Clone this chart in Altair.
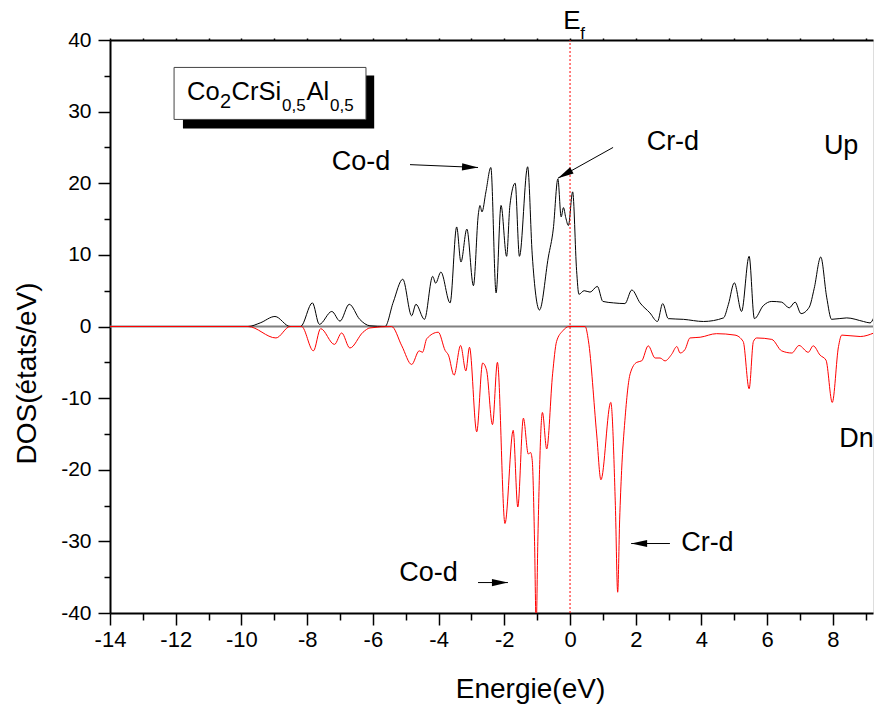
import altair as alt
import pandas as pd

# ---------------- data ----------------
up_x = [-14, -9.8, -9.43, -8.98, -8.52, -8.2, -7.84, -7.63, -7.25, -7.0, -6.72, -6.4, -6.09, -5.63,
        -5.38, -5.09, -4.82, -4.69, -4.43, -4.18, -4.09, -3.93, -3.65, -3.45, -3.32, -3.14, -2.94,
        -2.79, -2.74, -2.68, -2.56, -2.41, -2.25, -2.10, -1.93, -1.83, -1.67, -1.54, -1.29, -1.15,
        -0.93, -0.66, -0.51, -0.37, -0.27, -0.2, -0.13, -0.05, 0.08, 0.2, 0.27, 0.43, 0.61, 0.83,
        1.0, 1.32, 1.67, 1.88, 2.13, 2.43, 2.66, 2.82, 2.99, 3.45, 4.06, 4.67, 4.82, 5.0, 5.22,
        5.45, 5.61, 5.88, 6.14, 6.44, 6.67, 6.85, 7.03, 7.28, 7.43, 7.63, 7.81, 7.96, 8.42, 8.93,
        9.13, 9.25]
up_y = [0, 0, 0.5, 1.4, 0, 0, 3.3, 0.3, 2.1, 0.75, 3.1, 1.0, 0.1, 0,
        3.4, 6.6, 1.5, 3.1, 1.0, 7.0, 6.05, 7.6, 3.3, 13.9, 9.0, 13.6, 5.7,
        15.7, 16.9, 16.0, 18.8, 22.2, 4.7, 16.9, 9.8, 16.9, 20.0, 9.8, 22.3, 10.0,
        2.3, 9.7, 13.6, 20.6, 15.3, 16.6, 15.2, 14.1, 18.8, 7.8, 4.5, 5.0, 4.8, 5.6,
        3.5, 3.3, 3.2, 5.1, 3.3, 1.9, 0.7, 3.2, 1.1, 1.0, 0.7, 1.2, 3.1, 6.1, 2.1,
        9.8, 1.1, 2.9, 3.5, 3.4, 2.6, 3.4, 1.8, 2.7, 5.3, 9.7, 4.1, 1.0, 1.2, 0.7,
        0.5, 1.3]

dn_x = [-14, -9.8, -8.95, -8.52, -8.17, -7.81, -7.59, -7.17, -6.95, -6.70, -6.3, -6.09, -5.43,
        -5.12, -4.82, -4.59, -4.49, -4.36, -4.01, -3.80, -3.70, -3.53, -3.33, -3.17, -3.06,
        -2.84, -2.66, -2.54, -2.36, -2.21, -1.98, -1.73, -1.59, -1.42, -1.27, -1.2, -1.15,
        -1.08, -1.03, -0.98, -0.84, -0.71, -0.53, -0.41, -0.22, -0.03, 0.46, 0.56, 0.81,
        0.94, 1.24, 1.38, 1.45, 1.51, 1.57, 1.67, 1.83, 2.03, 2.18, 2.38, 2.59, 2.74, 2.89,
        3.09, 3.25, 3.35, 3.5, 3.65, 3.96, 4.46, 5.02, 5.27, 5.45, 5.58, 5.68, 6.14, 6.44,
        6.75, 6.97, 7.25, 7.40, 7.61, 7.79, 7.98, 8.17, 8.27, 8.83, 9.25]
dn_y = [0, 0, -1.6, 0, 0, -3.4, -0.3, -2.5, -0.9, -3.0, -0.8, -0.2, 0,
        -2.7, -5.3, -3.4, -3.6, -1.7, -0.8, -3.35, -4.0, -6.8, -2.65, -6.2, -2.9,
        -14.7, -5.1, -6.1, -13.7, -5.0, -27.5, -14.5, -25.2, -12.8, -17.8, -17.6, -18.7,
        -30, -42, -30, -12.0, -17.1, -6.6, -2.1, -0.6, 0, 0, -2.0, -15.0,
        -21.4, -10.6, -25, -37.1, -27, -20.1, -13.1, -6.6, -5.0, -4.8, -2.7, -4.4, -4.4, -4.8,
        -3.9, -2.8, -3.7, -3.2, -1.6, -1.5, -1.0, -1.2, -2.1, -8.7, -2.1, -1.6, -1.8, -3.4,
        -3.7, -2.65, -3.6, -2.7, -4.0, -4.7, -10.6, -2.8, -1.2, -1.4, -0.9]

x_ticks = list(range(-14, 10))
y_ticks = list(range(-40, 41, 5))

label_text = ["Co-d", "Cr-d", "Up", "Dn", "Cr-d", "Co-d"]
label_x = [-6.36, 3.13, 8.25, 8.72, 4.18, -4.31]
label_y = [21.8, 24.6, 24.1, -16.8, -31.3, -35.6]

arrow_x1 = [-4.87, 1.31, -2.80, 3.04]
arrow_y1 = [22.6, 25.0, -35.75, -30.3]
arrow_x2 = [-2.80, -0.37, -1.89, 1.86]
arrow_y2 = [22.2, 20.7, -35.75, -30.3]
arrow_ang = [92.5, 240.6, 90, 270]

formula_text = ["Co", "2", "CrSi", "0,5", "Al", "0,5"]
formula_x = [-11.656, -10.651, -10.301, -8.764, -8.019, -7.304]
formula_y = [31.66, 30.54, 31.66, 30.03, 31.66, 30.03]
formula_fs = [25.5, 20, 25.5, 17, 25.5, 17]

box_x = [-12.05, -6.21]
box_y = [36.17, 28.91]
shadow_x = [-11.78, -5.96]
shadow_y = [35.06, 27.65]

ef_text = ["E", "f"]
ef_x = [-0.21, 0.31]
ef_y = [41.48, 40.08]
ef_fs = [26, 17]

# ---------------- chart ----------------
FONT = "Liberation Sans"

xs = alt.Scale(domain=[-14, 9.22], nice=False, zero=False)
ys = alt.Scale(domain=[-40, 40], nice=False, zero=False)

x_axis = alt.Axis(
    orient="bottom", values=x_ticks, title="Energie(eV)", grid=False,
    labelExpr="datum.value % 2 === 0 ? '' + datum.value : ''",
    tickSize={"condition": {"test": "datum.value % 2 === 0", "value": 12}, "value": 7},
    tickColor="black", tickWidth=1.5, domainColor="black", domainWidth=2,
    labelFont=FONT, labelFontSize=22, labelColor="black", labelPadding=4,
    labelFlush=False, labelOverlap=False, labelBound=False,
    titleFont=FONT, titleFontSize=28, titleFontWeight="normal", titleColor="black",
    titleX=420, titleY=84, titleBaseline="alphabetic", titleAlign="center",
)
top_axis = alt.Axis(
    orient="top", values=x_ticks, labels=False, title=None, grid=False,
    tickSize=2, tickColor="black", tickWidth=1.5, domainColor="black", domainWidth=2,
)
y_axis = alt.Axis(
    orient="left", values=y_ticks, title="DOS(états/eV)", grid=False,
    labelExpr="datum.value % 10 === 0 ? '' + datum.value : ''",
    tickSize={"condition": {"test": "datum.value % 10 === 0", "value": 12}, "value": 6},
    tickColor="black", tickWidth=1.5, domainColor="black", domainWidth=2,
    labelFont=FONT, labelFontSize=21, labelColor="black", labelPadding=7,
    labelFlush=False, labelOverlap=False, labelBound=False,
    titleFont=FONT, titleFontSize=28, titleFontWeight="normal", titleColor="black",
    titleX=-75, titleY=333, titleAngle=270, titleBaseline="alphabetic", titleAlign="center",
)


def Y(field):
    return alt.Y(field, scale=ys, axis=y_axis)


def Xn(field):
    return alt.X(field, scale=xs, axis=None)


up_df = pd.DataFrame({"x": up_x, "y": up_y})
dn_df = pd.DataFrame({"x": dn_x, "y": dn_y})

zero_line = alt.Chart(pd.DataFrame({"x": [-14], "x2": [9.22], "y": [0]})).mark_rule(
    color="#808080", strokeWidth=1.8
).encode(x=Xn("x:Q"), x2="x2:Q", y=Y("y:Q"))

up_line = alt.Chart(up_df).mark_line(
    color="black", strokeWidth=1, interpolate="monotone", clip=True
).encode(x=alt.X("x:Q", scale=xs, axis=x_axis), y=Y("y:Q"))

dn_line = alt.Chart(dn_df).mark_line(
    color="#ff0000", strokeWidth=1, interpolate="monotone", clip=True
).encode(x=Xn("x:Q"), y=Y("y:Q"))

ef_line = alt.Chart(pd.DataFrame({"x": [0], "y": [-40], "y2": [40]})).mark_rule(
    color="#ff0000", strokeWidth=1, strokeDash=[2, 2]
).encode(x=alt.X("x:Q", scale=xs, axis=top_axis), y=Y("y:Q"), y2="y2:Q")

shadow = alt.Chart(pd.DataFrame({"x": [shadow_x[0]], "x2": [shadow_x[1]],
                                 "y": [shadow_y[0]], "y2": [shadow_y[1]]})).mark_rect(
    color="black"
).encode(x=Xn("x:Q"), x2="x2:Q", y=Y("y:Q"), y2="y2:Q")

box = alt.Chart(pd.DataFrame({"x": [box_x[0]], "x2": [box_x[1]],
                              "y": [box_y[0]], "y2": [box_y[1]]})).mark_rect(
    fill="white", stroke="#444444", strokeWidth=1
).encode(x=Xn("x:Q"), x2="x2:Q", y=Y("y:Q"), y2="y2:Q")

formula = alt.Chart(pd.DataFrame({"x": formula_x, "y": formula_y, "t": formula_text,
                                  "fs": formula_fs})).mark_text(
    align="left", baseline="alphabetic", font=FONT, color="black"
).encode(x=Xn("x:Q"), y=Y("y:Q"), text="t:N", size=alt.Size("fs:Q", scale=None))

labels = alt.Chart(pd.DataFrame({"x": label_x, "y": label_y, "t": label_text})).mark_text(
    align="center", baseline="alphabetic", font=FONT, fontSize=27, color="black"
).encode(x=Xn("x:Q"), y=Y("y:Q"), text="t:N")

arrow_df = pd.DataFrame({"x": arrow_x1, "y": arrow_y1, "x2": arrow_x2, "y2": arrow_y2,
                         "ang": arrow_ang})
arrow_lines = alt.Chart(arrow_df).mark_rule(color="black", strokeWidth=1).encode(
    x=Xn("x:Q"), y=Y("y:Q"), x2="x2:Q", y2="y2:Q")
arrow_heads = alt.Chart(arrow_df).mark_point(
    shape="M0,0L-0.45,2L0.45,2Z", filled=True, color="black", opacity=1, size=256, strokeWidth=0
).encode(x=Xn("x2:Q"), y=Y("y2:Q"), angle=alt.Angle("ang:Q", scale=None))

ef_label = alt.Chart(pd.DataFrame({"x": ef_x, "y": ef_y, "t": ef_text, "fs": ef_fs})).mark_text(
    align="left", baseline="alphabetic", font=FONT, color="black"
).encode(x=Xn("x:Q"), y=Y("y:Q"), text="t:N", size=alt.Size("fs:Q", scale=None))

chart = alt.layer(
    zero_line, up_line, dn_line, ef_line, shadow, box, formula, labels,
    arrow_lines, arrow_heads, ef_label
).resolve_axis(x="independent", y="shared").properties(
    width=763, height=573,
    autosize=alt.AutoSizeParams(type="none"),
    padding={"left": 110, "top": 40, "right": 1, "bottom": 97},
).configure_view(stroke=None).configure(background="white")

chart.save("out.html", embed_options={"renderer": "svg", "actions": False})
